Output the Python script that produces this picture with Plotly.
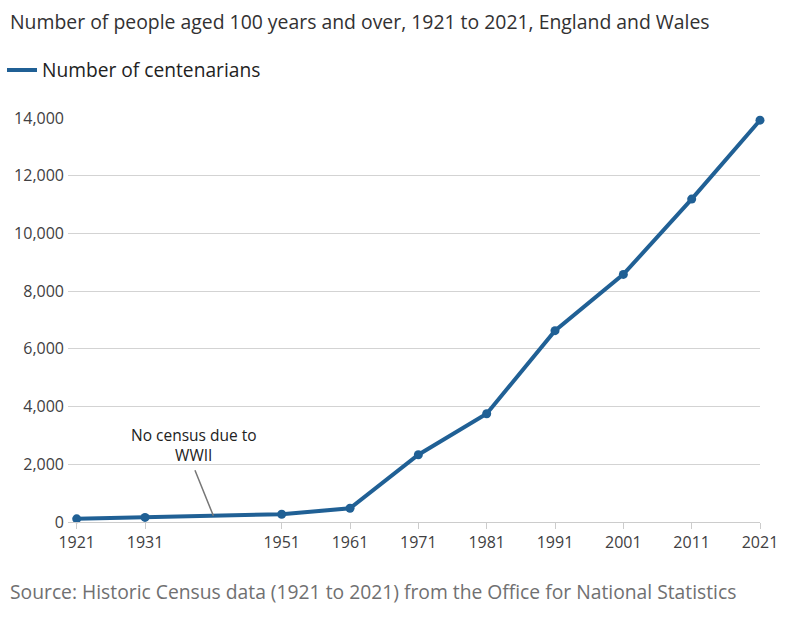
import plotly.graph_objects as go

years = [1921, 1931, 1951, 1961, 1971, 1981, 1991, 2001, 2011, 2021]
centenarians = [110, 160, 270, 475, 2330, 3750, 6630, 8580, 11190, 13924]
y_ticks = [0, 2000, 4000, 6000, 8000, 10000, 12000, 14000]
y_tick_labels = ["0", "2,000", "4,000", "6,000", "8,000", "10,000", "12,000", "14,000"]

series_name = "Number of centenarians"
title_text = "Number of people aged 100 years and over, 1921 to 2021, England and Wales"
source_text = "Source: Historic Census data (1921 to 2021) from the Office for National Statistics"
note_text = "No census due to<br>WWII"
note_year = 1941
note_value = (centenarians[1] + centenarians[2]) / 2
note_label_year = 1938.2
note_label_value = 2670

FONT = "Open Sans"
BLUE = "#206095"
W, H = 800, 620
L, R, T, B = 68, 40, 118, 98

fig = go.Figure()
fig.add_trace(go.Scatter(
    x=years, y=centenarians, mode="lines+markers", name=series_name,
    line=dict(color=BLUE, width=4),
    marker=dict(color=BLUE, size=9),
    cliponaxis=False, showlegend=False,
))
# legend entry (line only)
fig.add_trace(go.Scatter(
    x=[None], y=[None], mode="lines", name=series_name,
    line=dict(color=BLUE, width=4), showlegend=True,
))

fig.update_layout(
    width=W, height=H,
    margin=dict(l=L, r=R, t=T, b=B, autoexpand=False),
    paper_bgcolor="white", plot_bgcolor="white",
    font=dict(family=FONT, color="#414042"),
    title=dict(text=title_text, x=10/W, xref="container", xanchor="left",
               y=1-22/H, yref="container", yanchor="middle",
               font=dict(size=19.4, color="#323132", family=FONT)),
    showlegend=True,
    legend=dict(orientation="h", xref="container", yref="container",
                x=2/W, xanchor="left", y=1-70/H, yanchor="middle",
                font=dict(size=19.2, color="#222222", family=FONT),
                itemwidth=30, bgcolor="rgba(0,0,0,0)"),
    xaxis=dict(range=[1921 - 8.7/6.83, 2021], tickmode="array", tickvals=years,
               ticktext=[str(y) for y in years], showgrid=False, zeroline=False,
               showline=True, linecolor="#cccccc", linewidth=1,
               ticks="outside", ticklen=6, tickcolor="#cccccc",
               tickfont=dict(size=16, color="#414042")),
    yaxis=dict(range=[0, 14000], tickmode="array", tickvals=y_ticks, ticktext=y_tick_labels,
               showgrid=True, gridcolor="#d3d3d3", gridwidth=1, zeroline=False,
               showline=False, ticks="", ticklabelstandoff=3,
               tickfont=dict(size=16, color="#414042")),
    annotations=[
        dict(x=note_label_year, y=note_label_value, xref="x", yref="y", text=note_text,
             showarrow=False, font=dict(size=15.5, color="#222222", family=FONT),
             align="center", xanchor="center", yanchor="middle"),
        dict(x=note_year, y=note_value, xref="x", yref="y", text="",
             showarrow=True, arrowhead=0, arrowwidth=1.5, arrowcolor="#777777",
             ax=-19, ay=-47),
        dict(x=(8-L)/(W-L-R), y=(H-B-591)/(H-T-B), xref="paper", yref="paper", text=source_text,
             showarrow=False, xanchor="left", yanchor="middle",
             font=dict(size=19.3, color="#707071", family=FONT)),
    ],
)

fig.write_html("out.html", config={"displayModeBar": False},
               post_script="document.body.style.margin='0';document.body.style.overflow='hidden';")
